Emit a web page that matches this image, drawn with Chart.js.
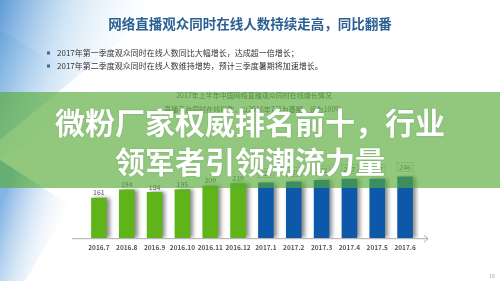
<!DOCTYPE html>
<html><head><meta charset="utf-8">
<script src="https://cdn.jsdelivr.net/npm/chart.js@4.4.1/dist/chart.umd.min.js"></script>
<style>html,body{margin:0;padding:0;background:#fff;}#wrap{width:500px;height:281px;position:relative;}</style>
</head><body><div id="wrap"><canvas id="c" width="500" height="281"></canvas></div>
<script>
const categories = ["2016.7","2016.8","2016.9","2016.10","2016.11","2016.12","2017.1","2017.2","2017.3","2017.4","2017.5","2017.6"];
const values = [161,194,184,195,209,219,222,226,232,237,237,246];
const barColors = ["#5fb41a","#5fb41a","#5fb41a","#5fb41a","#5fb41a","#5fb41a","#0d58a8","#0d58a8","#0d58a8","#0d58a8","#0d58a8","#0d58a8"];
const boxedFrom = 6;
const titleText = "网络直播观众同时在线人数持续走高，同比翻番";
const bullets = ["2017年第一季度观众同时在线人数同比大幅增长，达成超一倍增长；","2017年第二季度观众同时在线人数维持增势，预计三季度暑期将加速增长。"];
const subTitle1 = "2017年上半年中国网络直播观众同时在线增长情况";
const subTitle2 = "直播平台同时在线指数，以2016年7月为基期，设为100%";
const overlay1 = "微粉厂家权威排名前十，行业";
const overlay2 = "领军者引领潮流力量";
const pageNo = "18";
const F = '"Noto Sans CJK SC","Noto Sans",sans-serif';

const bgPlugin = {
  id:'bg',
  beforeDraw(chart){
    const ctx = chart.ctx;
    ctx.save();
    ctx.fillStyle='#fff'; ctx.fillRect(0,0,500,281);
    let g = ctx.createLinearGradient(0,0,150,50);
    g.addColorStop(0,'rgba(40,120,200,0.75)');
    g.addColorStop(0.45,'rgba(130,185,230,0.35)');
    g.addColorStop(1,'rgba(255,255,255,0)');
    ctx.fillStyle=g;
    ctx.beginPath(); ctx.moveTo(0,0); ctx.lineTo(170,0); ctx.lineTo(0,140); ctx.closePath(); ctx.fill();
    g = ctx.createLinearGradient(0,30,100,80);
    g.addColorStop(0,'rgba(90,160,220,0.4)');
    g.addColorStop(1,'rgba(255,255,255,0)');
    ctx.fillStyle=g;
    ctx.beginPath(); ctx.moveTo(0,30); ctx.lineTo(110,95); ctx.lineTo(0,160); ctx.closePath(); ctx.fill();
    g = ctx.createLinearGradient(0,210,70,230);
    g.addColorStop(0,'rgba(50,130,210,0.6)');
    g.addColorStop(1,'rgba(255,255,255,0)');
    ctx.fillStyle=g;
    ctx.beginPath(); ctx.moveTo(0,160); ctx.lineTo(70,205); ctx.lineTo(25,281); ctx.lineTo(0,281); ctx.closePath(); ctx.fill();
    ctx.fillStyle='#2a5f92'; ctx.font='bold 13.5px '+F; ctx.textAlign='center'; ctx.textBaseline='middle';
    ctx.fillText(titleText,250,24);
    ctx.font='8px '+F; ctx.textAlign='left';
    bullets.forEach((b,i)=>{
      const y = 53 + i*13;
      ctx.fillStyle='#2d6aa6'; ctx.fillRect(47,y-1.5,3,3);
      ctx.fillStyle='#333'; ctx.fillText(b,57,y);
    });
    ctx.font='7px '+F; ctx.textAlign='center'; ctx.fillStyle='#555';
    ctx.fillText(subTitle1,254,95);
    ctx.fillText(subTitle2,253,109);
    ctx.font='5px '+F; ctx.fillStyle='#999'; ctx.fillText(pageNo,492,276);
    ctx.restore();
  },
  beforeDatasetsDraw(chart){
    const ctx=chart.ctx; ctx.save();
    ctx.shadowColor='rgba(0,0,0,0.45)'; ctx.shadowOffsetX=3; ctx.shadowOffsetY=0; ctx.shadowBlur=4;
  },
  afterDatasetsDraw(chart){
    const ctx=chart.ctx; ctx.restore();
    ctx.save();
    const meta = chart.getDatasetMeta(0);
    ctx.font='7px '+F; ctx.textAlign='center'; ctx.textBaseline='middle';
    meta.data.forEach((bar,i)=>{
      const v = values[i];
      if(i>=boxedFrom){
        const bx = bar.x-8, by = bar.y-14;
        ctx.fillStyle='#fff'; ctx.strokeStyle='#c8c8c8'; ctx.lineWidth=0.8;
        ctx.fillRect(bx,by,16,9); ctx.strokeRect(bx,by,16,9);
        ctx.fillStyle='#666'; ctx.fillText(String(v),bar.x,by+4.5);
      } else {
        ctx.fillStyle='#555'; ctx.fillText(String(v),bar.x,bar.y-5);
      }
    });
    ctx.restore();
  },
  afterDraw(chart){
    const ctx=chart.ctx; ctx.save();
    const y = chart.chartArea.bottom;
    ctx.strokeStyle='#aaa'; ctx.lineWidth=1;
    ctx.beginPath(); ctx.moveTo(72,y+0.5); ctx.lineTo(428,y+0.5); ctx.stroke();
    ctx.beginPath(); ctx.moveTo(424,y-3); ctx.lineTo(428,y+0.5); ctx.lineTo(424,y+4); ctx.stroke();
    ctx.fillStyle='rgba(86,171,55,0.65)';
    ctx.fillRect(0,92,500,96);
    ctx.fillStyle='#fff'; ctx.font='bold 30px '+F; ctx.textAlign='center'; ctx.textBaseline='middle';
    ctx.shadowColor='rgba(0,0,0,0.15)'; ctx.shadowBlur=2;
    ctx.fillText(overlay1,250,123);
    ctx.fillText(overlay2,250,162);
    ctx.restore();
  }
};

new Chart(document.getElementById('c'),{
  type:'bar',
  data:{labels:categories,datasets:[{data:values,backgroundColor:barColors,barPercentage:0.56,categoryPercentage:1}]},
  options:{
    responsive:false,animation:false,devicePixelRatio:1,
    layout:{padding:{left:85,right:81,top:163,bottom:25}},
    plugins:{legend:{display:false},tooltip:{enabled:false}},
    scales:{
      x:{grid:{display:false,drawTicks:false},border:{display:false},
         ticks:{font:{size:6.5,family:F,weight:'bold'},color:'#555',padding:5,autoSkip:false,maxRotation:0}},
      y:{display:false,min:0,max:300}
    }
  },
  plugins:[bgPlugin]
});
</script></body></html>
